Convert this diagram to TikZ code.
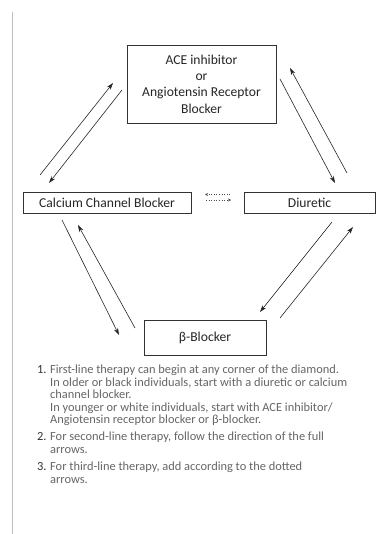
\documentclass[tikz,border=0pt]{standalone}
\usepackage{fontspec}
\setmainfont{Carlito}
\usetikzlibrary{arrows.meta}
\begin{document}
\begin{tikzpicture}[x=1pt,y=-1pt,
  drugbox/.style={draw=black!80,line width=0.9pt,inner sep=0pt,align=center,font=\fontsize{13.6}{16.3}\selectfont,text=black!85},
  arr/.style={line width=0.6pt,black!85,-{Stealth[length=7pt,width=4.5pt]}},
  darr/.style={line width=0.6pt,black!70,dotted,-{Stealth[length=3pt,width=3pt]}},
  listtxt/.style={anchor=base west,inner sep=0pt,font=\fontsize{12.4}{12.5}\selectfont,text=black!60},
  listnum/.style={anchor=base west,inner sep=0pt,font=\fontsize{12.4}{12.5}\selectfont,text=black!80}]
\useasboundingbox (0,0) rectangle (377,534);
\fill[white] (0,0) rectangle (377,534);
\coordinate (lt) at (12.5,12);
\coordinate (lb) at (12.5,534);
\draw[black!25,line width=0.8pt] (lt) -- (lb);
% boxes
\node[drugbox,minimum width=149pt,minimum height=78pt] (ace) at (201.5,84) {ACE inhibitor\\or\\Angiotensin Receptor\\Blocker};
\node[drugbox,minimum width=168pt,minimum height=21pt] (ccb) at (107,202.5) {Calcium Channel Blocker};
\node[drugbox,minimum width=131pt,minimum height=21pt] (diu) at (309.5,202.5) {Diuretic};
\node[drugbox,minimum width=122pt,minimum height=35pt] (beta) at (205,337.5) {β-Blocker};
% arrow end points
\coordinate (a1s) at (40,175);  \coordinate (a1e) at (113,83);
\coordinate (a2s) at (122,90);  \coordinate (a2e) at (49,183);
\coordinate (a3s) at (280,79);  \coordinate (a3e) at (335,183);
\coordinate (a4s) at (347,173); \coordinate (a4e) at (290,68);
\coordinate (a5s) at (62,220);  \coordinate (a5e) at (119,335);
\coordinate (a6s) at (135,328); \coordinate (a6e) at (78,225);
\coordinate (a7s) at (332,222); \coordinate (a7e) at (260,312);
\coordinate (a8s) at (280,318); \coordinate (a8e) at (353,227);
\draw[arr] (a1s) -- (a1e);
\draw[arr] (a2s) -- (a2e);
\draw[arr] (a3s) -- (a3e);
\draw[arr] (a4s) -- (a4e);
\draw[arr] (a5s) -- (a5e);
\draw[arr] (a6s) -- (a6e);
\draw[arr] (a7s) -- (a7e);
\draw[arr] (a8s) -- (a8e);
% dotted arrows
\coordinate (d1s) at (230,194.5); \coordinate (d1e) at (205,194.5);
\coordinate (d2s) at (206,200); \coordinate (d2e) at (231,200);
\draw[darr] (d1s) -- (d1e);
\draw[darr] (d2s) -- (d2e);
% list
\node[listnum] (n1) at (37,373.5) {1.};
\node[listtxt] (t11) at (50,373.5) {First-line therapy can begin at any corner of the diamond.};
\node[listtxt] (t12) at (50,386) {In older or black individuals, start with a diuretic or calcium};
\node[listtxt] (t13) at (50,398.5) {channel blocker.};
\node[listtxt] (t14) at (50,411) {In younger or white individuals, start with ACE inhibitor/};
\node[listtxt] (t15) at (50,423.5) {Angiotensin receptor blocker or β-blocker.};
\node[listnum] (n2) at (37,440.5) {2.};
\node[listtxt] (t21) at (50,440.5) {For second-line therapy, follow the direction of the full};
\node[listtxt] (t22) at (50,453) {arrows.};
\node[listnum] (n3) at (37,470.5) {3.};
\node[listtxt] (t31) at (50,470.5) {For third-line therapy, add according to the dotted};
\node[listtxt] (t32) at (50,483) {arrows.};
\end{tikzpicture}
\end{document}
